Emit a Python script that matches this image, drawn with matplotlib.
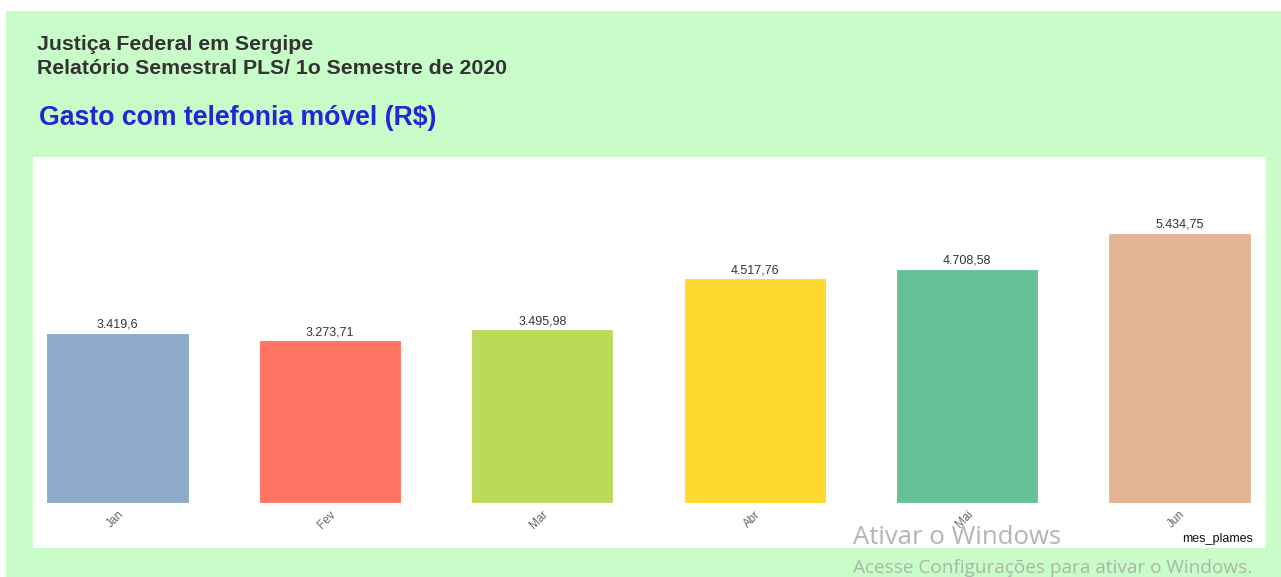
import matplotlib
matplotlib.use("Agg")
import matplotlib.pyplot as plt
from matplotlib.patches import Rectangle

months = ["Jan", "Fev", "Mar", "Abr", "Mai", "Jun"]
values = [3419.60, 3273.71, 3495.98, 4517.76, 4708.58, 5434.75]
labels = ["3.419,6", "3.273,71", "3.495,98", "4.517,76", "4.708,58", "5.434,75"]
colors = ["#8DAAC9", "#FF7463", "#BCDA57", "#FED930", "#66C296", "#E3B493"]

W, H = 1281, 577
fig = plt.figure(figsize=(W / 100, H / 100), dpi=100)
fig.patch.set_facecolor("white")
plt.rcParams["font.family"] = ["Liberation Sans", "DejaVu Sans"]

def fx(px):
    return px / W

def fy(py):
    return 1 - py / H

# green background
fig.patches.append(Rectangle((fx(6), 0), 1 - fx(6), fy(11), transform=fig.transFigure,
                             facecolor="#C8FCC8", edgecolor="none", zorder=-2))
# white panel
fig.patches.append(Rectangle((fx(33), fy(548)), fx(1266) - fx(33), fy(157) - fy(548),
                             transform=fig.transFigure, facecolor="white", edgecolor="none", zorder=-1))

# titles
fig.text(fx(37), fy(44), "Justiça Federal em Sergipe", fontsize=15.3, fontweight="bold",
         color="#333333", va="center", ha="left")
fig.text(fx(37), fy(68), "Relatório Semestral PLS/ 1o Semestre de 2020", fontsize=15.3,
         fontweight="bold", color="#333333", va="center", ha="left")
fig.text(fx(39), fy(118), "Gasto com telefonia móvel (R$)", fontsize=19.2, fontweight="bold",
         color="#2424D8", va="center", ha="left")

# axes: baseline at px 503, top at px 157
ax = fig.add_axes([fx(33), fy(503), fx(1266) - fx(33), fy(157) - fy(503)])
ax.set_zorder(2)
ax.set_facecolor("none")
x = list(range(len(months)))
ax.bar(x, values, width=0.67, color=colors, edgecolor="white", linewidth=0.8)
ax.set_xlim((33 - 117.5) / 212.4, (1266 - 117.5) / 212.4)
ax.set_ylim(0, (503 - 157) / 0.0497)
for xi, v, lab in zip(x, values, labels):
    ax.annotate(lab, (xi, v), xytext=(0, 1.5), textcoords="offset points", ha="center",
                va="bottom", fontsize=9, color="#333333")
ax.set_xticks(x)
ax.set_xticklabels(months, rotation=45, ha="right", rotation_mode="anchor",
                   fontsize=8.5, color="#666666")
ax.tick_params(axis="x", length=0, pad=4)
ax.set_yticks([])
for s in ax.spines.values():
    s.set_visible(False)

fig.text(fx(1253), fy(539), "mes_plames", fontsize=9, color="#111111", ha="right", va="center")

# Windows watermark
fig.text(fx(853), fy(538), "Ativar o Windows", fontsize=18.5, color="#B4B4B4",
         ha="left", va="center", family=["Open Sans", "DejaVu Sans"], zorder=5)
fig.text(fx(853), fy(568), "Acesse Configurações para ativar o Windows.", fontsize=13.7,
         color="#A8B8A8", ha="left", va="center", family=["Open Sans", "DejaVu Sans"], zorder=5)

fig.savefig("out.png", dpi=100)
